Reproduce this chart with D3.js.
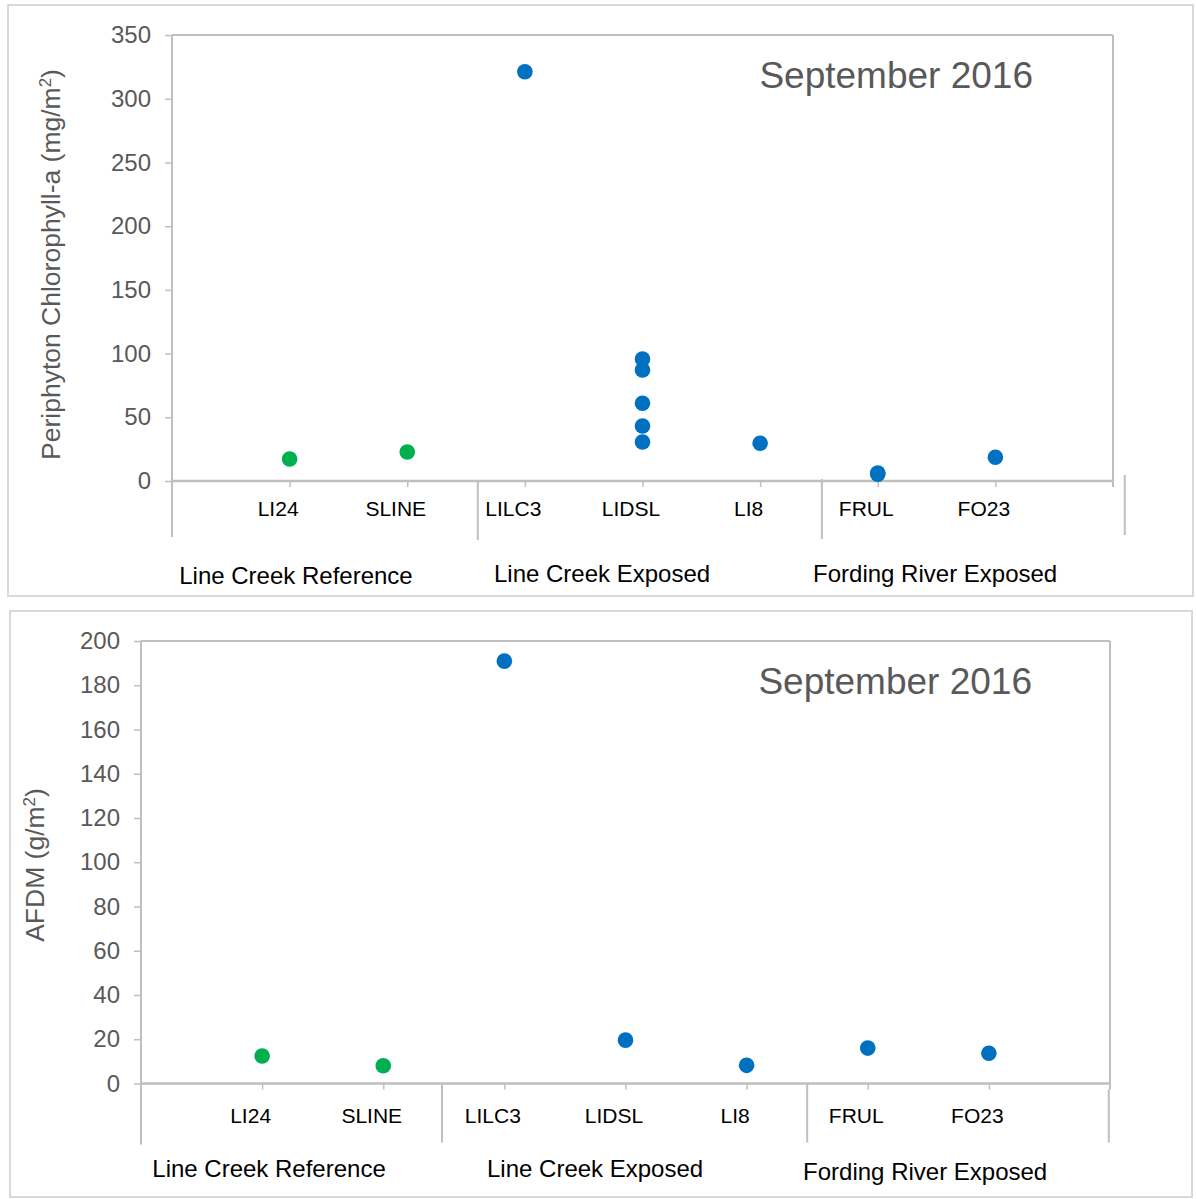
<!DOCTYPE html>
<html><head><meta charset="utf-8">
<script src="https://cdn.jsdelivr.net/npm/d3@7"></script>
<style>body{margin:0;background:#fff} svg{display:block}</style>
</head><body>
<svg id="c" width="1196" height="1199"></svg>
<script>
// ---- data ----
const categories = ["LI24","SLINE","LILC3","LIDSL","LI8","FRUL","FO23"];
const stationType = ["ref","ref","exp","exp","exp","exp","exp"];
const groupNames = ["Line Creek Reference","Line Creek Exposed","Fording River Exposed"];
const chlaValues = [[17.3],[22.8],[321.2],[95.7,87.1,61.0,43.2,30.6],[29.6],[5.4,6.2],[18.6]];
const afdmValues = [[12.4],[8.0],[190.9],[19.6],[8.2],[16.0],[13.7]];
const chlaTicks = [0,50,100,150,200,250,300,350];
const afdmTicks = [0,20,40,60,80,100,120,140,160,180,200];
const periodLabel = "September 2016";
const chlaTitle = ["Periphyton Chlorophyll-a (mg/m","2",")"];
const afdmTitle = ["AFDM (g/m","2",")"];

// ---- layout ----
const FONT = "'Liberation Sans', Arial, sans-serif";
const colors = {ref:"#00b050", exp:"#0070c0"};
const gridC = "#bfbfbf";

const panels = [
  {frame:[8,5,1185,591], x0:172, x1:1113, y0:35, y1:481, yMax:350, ticks:chlaTicks, values:chlaValues,
   title:chlaTitle, titleX:60, titleY:264.5,
   seps:[0,2.6,5.525,8.1], sepExt:[[0,56],[0,59],[-2,58],[-6,54]],
   groupPos:[1.054,3.656,6.488], groupBase:[102.5,100.5,100.5], catBase:35, textRight:80},
  {frame:[10,611,1182,586], x0:141, x1:1110, y0:641, y1:1083.5, yMax:200, ticks:afdmTicks, values:afdmValues,
   title:afdmTitle, titleX:44, titleY:865,
   seps:[0,2.485,5.5,7.99], sepExt:[[0,61],[0,59],[0,59],[6,59]],
   groupPos:[1.057,3.749,6.474], groupBase:[93.5,93.5,96.5], catBase:39.5, textRight:78}
];

const svg = d3.select("#c");

panels.forEach(p => {
  const g = svg.append("g");
  g.append("rect").attr("x",p.frame[0]).attr("y",p.frame[1]).attr("width",p.frame[2]).attr("height",p.frame[3])
    .attr("fill","#fff").attr("stroke","#d9d9d9").attr("stroke-width",2);

  const x = d3.scaleLinear().domain([0,8]).range([p.x0,p.x1]);
  const y = d3.scaleLinear().domain([0,p.yMax]).range([p.y1,p.y0]);

  // plot border (top & right)
  g.append("line").attr("x1",p.x0).attr("x2",p.x1).attr("y1",p.y0).attr("y2",p.y0).attr("stroke",gridC).attr("stroke-width",2);
  g.append("line").attr("x1",p.x1).attr("x2",p.x1).attr("y1",p.y0).attr("y2",p.y1+6).attr("stroke",gridC).attr("stroke-width",2);

  // y axis
  const ya = g.append("g").attr("transform",`translate(${p.x0},0)`)
    .call(d3.axisLeft(y).tickValues(p.ticks).tickSize(7).tickPadding(14).tickFormat(d3.format("d")));
  ya.select(".domain").remove();
  ya.selectAll(".tick line").attr("stroke",gridC).attr("stroke-width",1.5);
  ya.selectAll(".tick text").attr("fill","#595959").style("font-family",FONT).style("font-size","24px");
  g.append("line").attr("x1",p.x0).attr("x2",p.x0).attr("y1",p.y0).attr("y2",p.y1).attr("stroke",gridC).attr("stroke-width",2);

  // x axis
  const xa = g.append("g").attr("transform",`translate(0,${p.y1})`)
    .call(d3.axisBottom(x).tickValues(d3.range(1,categories.length+1)).tickSize(6).tickFormat(i=>categories[i-1]));
  xa.select(".domain").remove();
  xa.selectAll(".tick line").attr("stroke",gridC).attr("stroke-width",1.5);
  xa.selectAll(".tick text").attr("y",p.catBase).attr("dy",0).attr("dx",-12)
    .attr("fill","#000").style("font-family",FONT).style("font-size","21px");
  g.append("line").attr("x1",p.x0).attr("x2",p.x1).attr("y1",p.y1).attr("y2",p.y1).attr("stroke",gridC).attr("stroke-width",2.5);

  // group separators
  g.selectAll(".sep").data(p.seps).join("line")
    .attr("x1",d=>x(d)).attr("x2",d=>x(d))
    .attr("y1",(d,i)=>p.y1+p.sepExt[i][0]).attr("y2",(d,i)=>p.y1+p.sepExt[i][1])
    .attr("stroke",gridC).attr("stroke-width",2);

  // group labels
  g.selectAll(".grp").data(groupNames).join("text")
    .attr("x",(d,i)=>x(p.groupPos[i])).attr("y",(d,i)=>p.y1+p.groupBase[i])
    .attr("text-anchor","middle").attr("fill","#000")
    .style("font-family",FONT).style("font-size","24px").text(d=>d);

  // y title
  const t = g.append("text").attr("transform",`translate(${p.titleX},${p.titleY}) rotate(-90)`)
    .attr("text-anchor","middle").attr("fill","#595959").style("font-family",FONT).style("font-size","26.5px");
  t.append("tspan").text(p.title[0]);
  t.append("tspan").attr("baseline-shift","super").style("font-size","17px").text(p.title[1]);
  t.append("tspan").text(p.title[2]);

  // period label
  g.append("text").attr("x",p.x1-p.textRight).attr("y",p.y0+53).attr("text-anchor","end")
    .attr("fill","#595959").style("font-family",FONT).style("font-size","37px").text(periodLabel);

  // points
  const pts = [];
  p.values.forEach((vals,i)=>vals.forEach(v=>pts.push({i:i+1,v,type:stationType[i]})));
  g.selectAll(".pt").data(pts).join("circle")
    .attr("cx",d=>x(d.i)).attr("cy",d=>y(d.v)).attr("r",7.8)
    .attr("fill",d=>colors[d.type]);
});
</script>
</body></html>
